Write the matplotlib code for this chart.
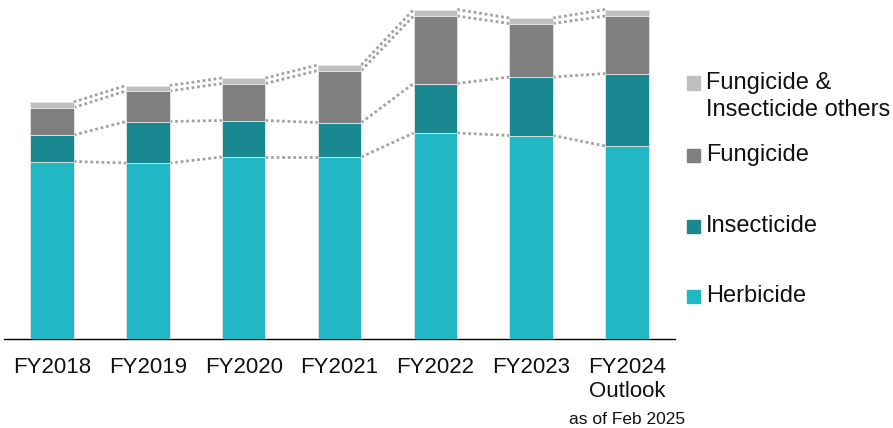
import numpy as np
import matplotlib

matplotlib.use("Agg")
import matplotlib.pyplot as plt
from matplotlib.patches import Rectangle
from matplotlib.transforms import blended_transform_factory

plt.rcParams["font.family"] = ["Liberation Sans", "DejaVu Sans"]

# --- data -------------------------------------------------------------------
years = ["FY2018", "FY2019", "FY2020", "FY2021", "FY2022", "FY2023", "FY2024\nOutlook"]
herbicide = [177, 175.5, 181.5, 181.5, 205.5, 203, 192.5]
insecticide = [26.5, 41.5, 36.5, 34.5, 49.5, 58.5, 72.5]
fungicide = [27.5, 30.5, 37, 52, 67.5, 53.5, 57.5]
others = [5.5, 5.5, 5.5, 5.5, 6.5, 5.5, 6.5]

series = [
    ("Herbicide", herbicide, "#21B7C5"),
    ("Insecticide", insecticide, "#1A8891"),
    ("Fungicide", fungicide, "#7F7F7F"),
    ("Fungicide &\nInsecticide others", others, "#BFBFBF"),
]

W, H = 893, 428
fig = plt.figure(figsize=(W / 100, H / 100), dpi=100)
base_px = 338.5
ax = fig.add_axes([4 / W, (H - base_px) / H, 671 / W, base_px / H])

x = np.arange(len(years))
bar_w = 0.455
bottom = np.zeros(len(years))
levels = []
for name, vals, color in series:
    vals = np.asarray(vals, dtype=float)
    ax.bar(x, vals, bar_w, bottom=bottom, color=color,
           edgecolor="#e6e6e6", linewidth=0.6, zorder=3)
    bottom = bottom + vals
    levels.append(bottom.copy())

# dotted connectors between neighbouring bars at each stack level
for lev in levels:
    for i in range(len(years) - 1):
        ax.plot([x[i] + bar_w / 2, x[i + 1] - bar_w / 2], [lev[i], lev[i + 1]],
                linestyle=(0, (1, 1)), color="#a3a3a3", linewidth=2.0,
                dash_capstyle="butt", zorder=2)

ax.set_xlim(-0.5, len(years) - 0.5)
ax.set_ylim(0, base_px)
for side in ["top", "right", "left"]:
    ax.spines[side].set_visible(False)
ax.spines["bottom"].set_color("black")
ax.spines["bottom"].set_linewidth(1.0)
ax.set_yticks([])
ax.set_xticks(x)
ax.set_xticklabels(years, fontsize=16, color="#111111")
ax.tick_params(axis="x", length=0, pad=13)

trans = blended_transform_factory(ax.transData, fig.transFigure)
ax.text(x[-1], (H - 420) / H, "as of Feb 2025", transform=trans,
        ha="center", va="center", fontsize=12.5, color="#111111")

# legend drawn by hand so the marker sits on the first text line
legend_y = [296.5, 226, 155, 83]
for (name, vals, color), ly in zip(series, legend_y):
    fig.patches.append(Rectangle((687 / W, (H - ly - 6.5) / H), 13 / W, 13 / H,
                                 transform=fig.transFigure, color=color))
    lines = name.split("\n")
    for k, line in enumerate(lines):
        fig.text(706 / W, (H - ly - 26.5 * k) / H, line, fontsize=17,
                 ha="left", va="center", color="#111111")

fig.savefig("out.png", dpi=100)
